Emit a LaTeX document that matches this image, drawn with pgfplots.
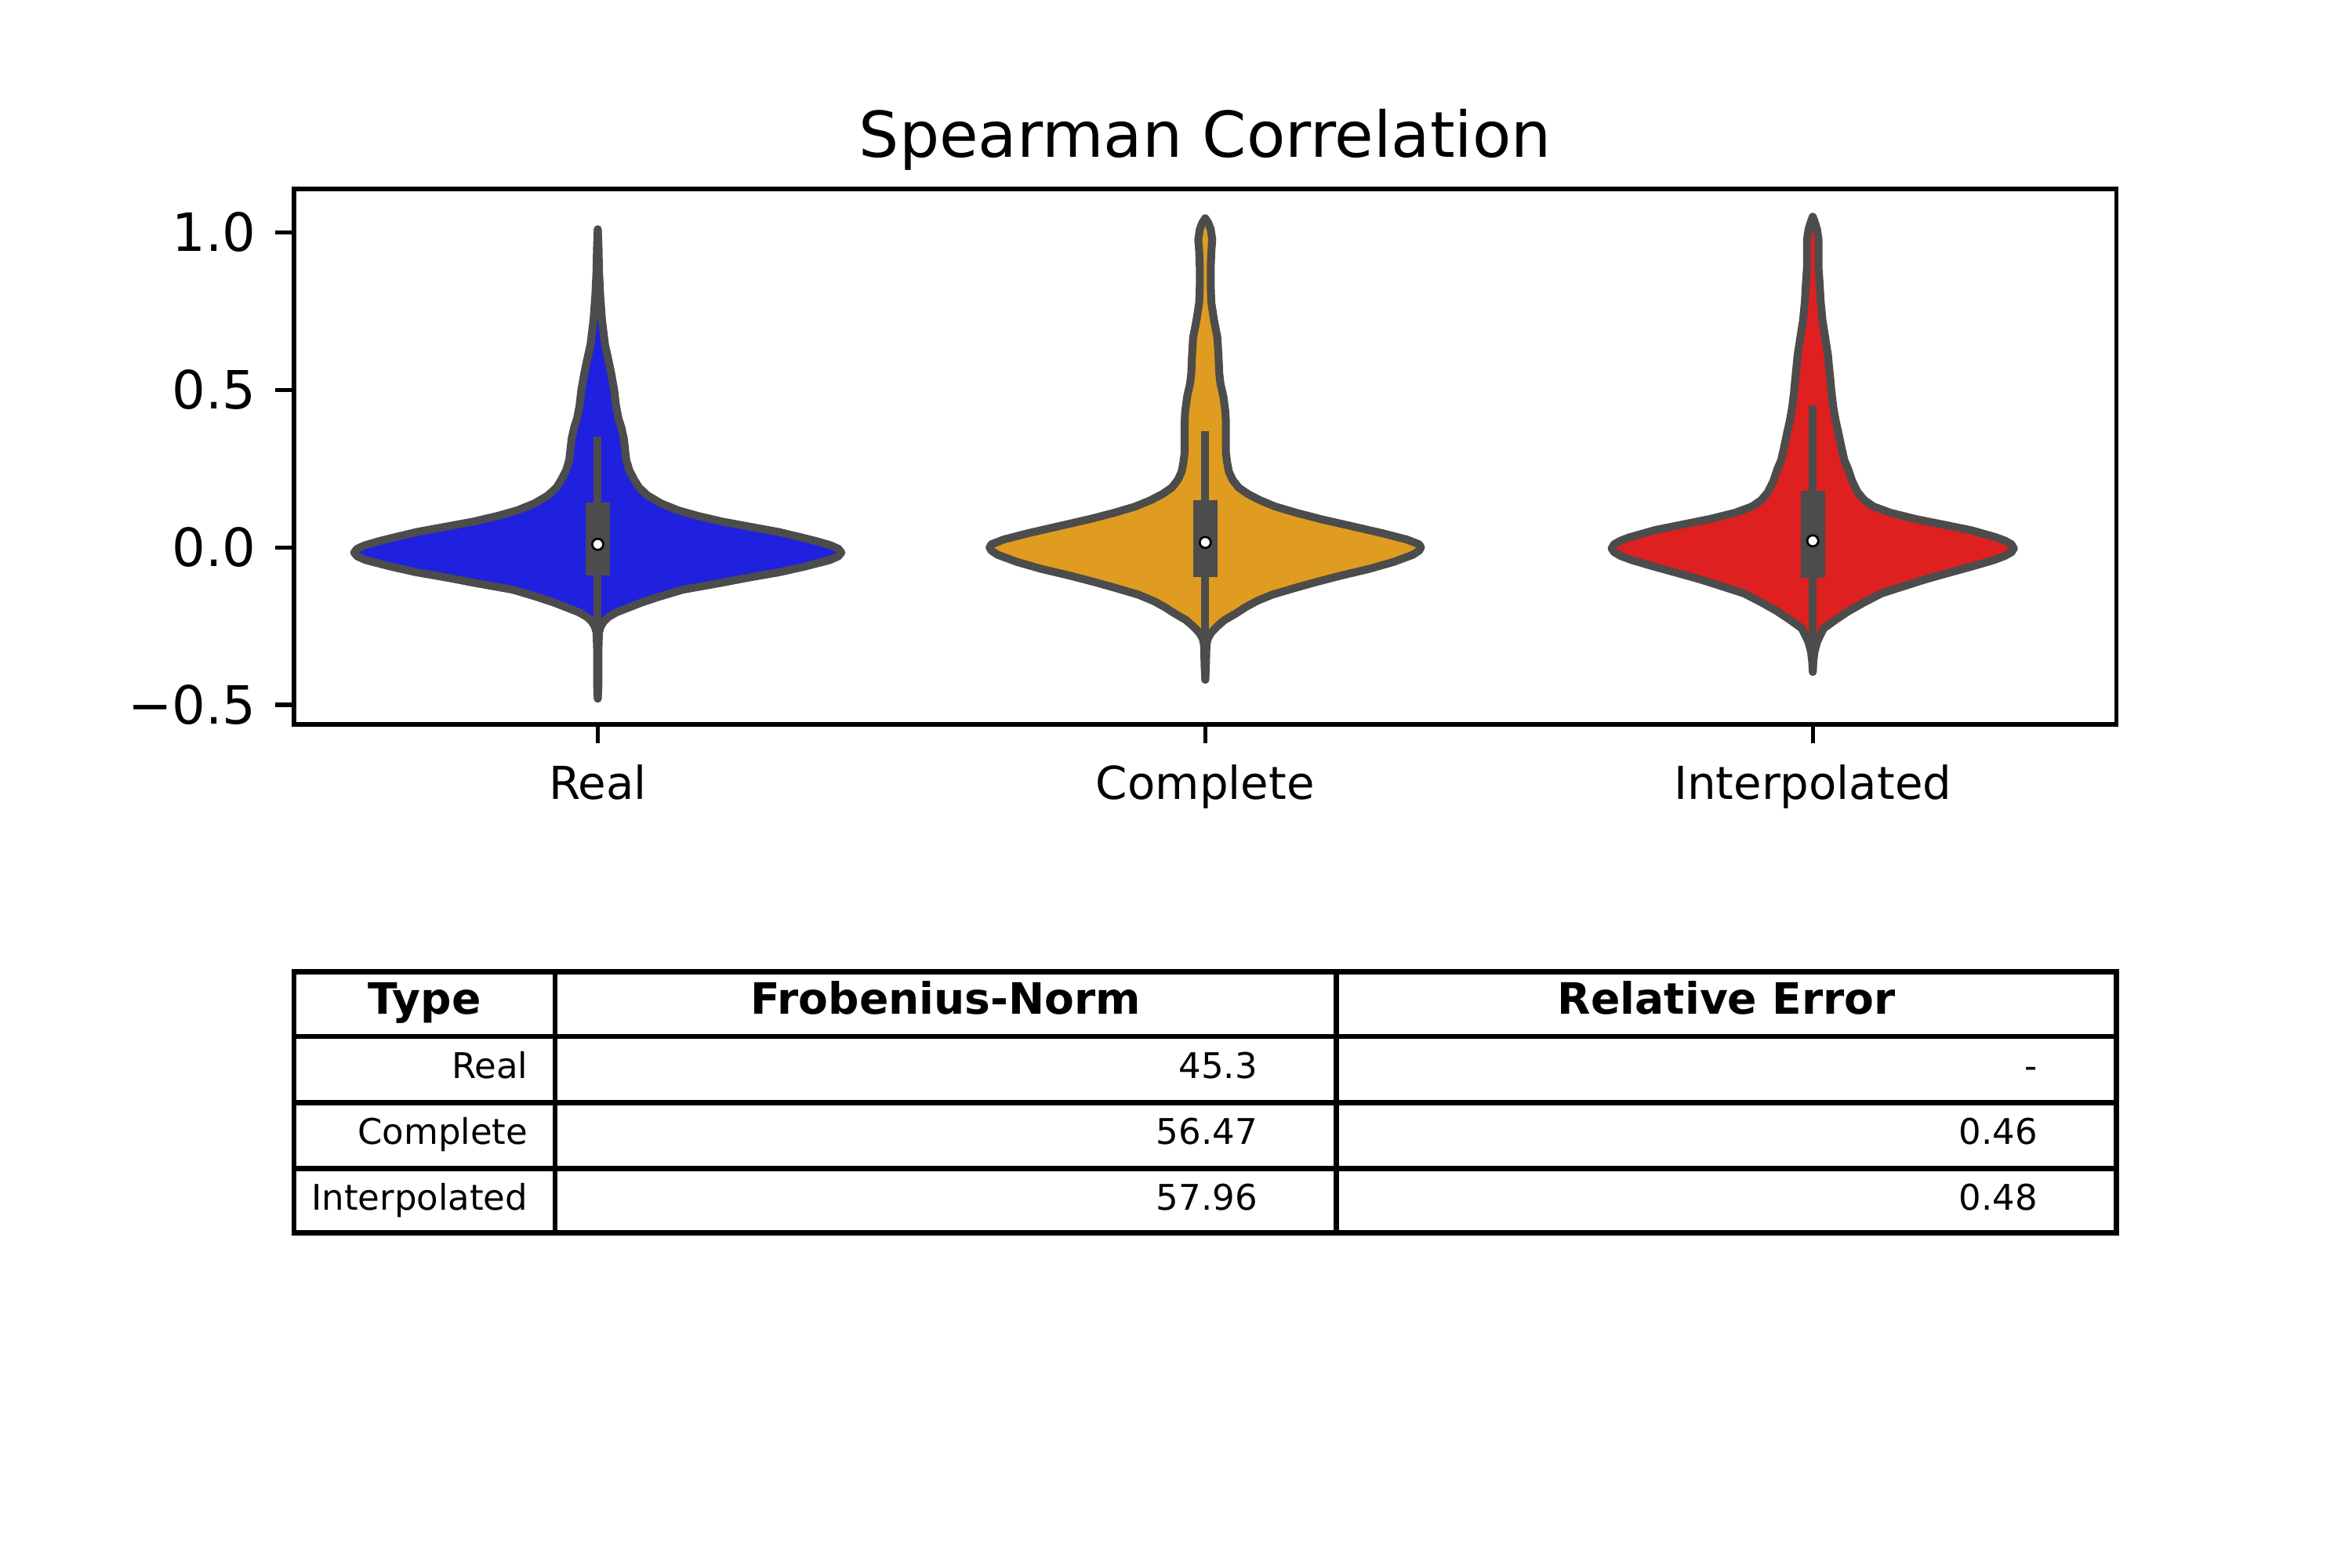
\documentclass[border=0pt]{standalone}
\usepackage{fontspec}
\setmainfont{DejaVu Sans}
\usepackage{pgfplots}
\usepackage{pgfplotstable}
\pgfplotsset{compat=1.18}
\usepgfplotslibrary{fillbetween}
\definecolor{realc}{RGB}{32,32,223}
\definecolor{compc}{RGB}{223,156,32}
\definecolor{intc}{RGB}{223,32,32}
\definecolor{vgray}{RGB}{76,76,76}

\pgfplotstableread[row sep=\\]{
y w \\
-0.480 0.000 \\ -0.440 0.001 \\ -0.330 0.001 \\ -0.270 0.002 \\ -0.250 0.005 \\
-0.235 0.010 \\ -0.220 0.018 \\ -0.205 0.032 \\ -0.190 0.052 \\ -0.175 0.072 \\
-0.157 0.100 \\ -0.134 0.140 \\ -0.112 0.204 \\ -0.095 0.250 \\ -0.079 0.298 \\
-0.060 0.342 \\ -0.040 0.382 \\ -0.028 0.396 \\ -0.016 0.401 \\ -0.004 0.396 \\
0.007 0.383 \\ 0.020 0.360 \\ 0.032 0.335 \\ 0.049 0.298 \\ 0.066 0.250 \\
0.082 0.205 \\ 0.100 0.165 \\ 0.118 0.132 \\ 0.140 0.104 \\ 0.165 0.082 \\
0.190 0.068 \\ 0.215 0.060 \\ 0.245 0.052 \\ 0.277 0.047 \\ 0.310 0.045 \\
0.345 0.043 \\ 0.380 0.039 \\ 0.410 0.034 \\ 0.450 0.030 \\ 0.500 0.027 \\
0.554 0.022 \\ 0.600 0.017 \\ 0.643 0.012 \\ 0.721 0.007 \\ 0.800 0.004 \\
0.880 0.002 \\ 0.950 0.0013 \\ 1.010 0.000 \\
}\realdata

\pgfplotstableread[row sep=\\]{
y w \\
-0.420 0.000 \\ -0.380 0.001 \\ -0.310 0.002 \\ -0.290 0.004 \\ -0.270 0.010 \\
-0.250 0.020 \\ -0.230 0.032 \\ -0.210 0.050 \\ -0.190 0.066 \\ -0.170 0.085 \\
-0.150 0.110 \\ -0.130 0.145 \\ -0.110 0.182 \\ -0.090 0.222 \\ -0.068 0.270 \\
-0.046 0.310 \\ -0.023 0.342 \\ -0.010 0.352 \\ 0.000 0.355 \\ 0.010 0.352 \\
0.025 0.332 \\ 0.045 0.292 \\ 0.068 0.240 \\ 0.090 0.190 \\ 0.110 0.150 \\
0.130 0.115 \\ 0.150 0.090 \\ 0.170 0.070 \\ 0.190 0.055 \\ 0.215 0.045 \\
0.240 0.039 \\ 0.270 0.036 \\ 0.300 0.034 \\ 0.350 0.034 \\ 0.400 0.034 \\
0.432 0.033 \\ 0.477 0.030 \\ 0.520 0.025 \\ 0.554 0.023 \\ 0.600 0.022 \\
0.666 0.020 \\ 0.721 0.0145 \\ 0.777 0.010 \\ 0.830 0.009 \\ 0.888 0.009 \\
0.940 0.010 \\ 0.977 0.0115 \\ 1.010 0.009 \\ 1.030 0.005 \\ 1.045 0.000 \\
}\compdata

\pgfplotstableread[row sep=\\]{
y w \\
-0.395 0.000 \\ -0.360 0.001 \\ -0.330 0.003 \\ -0.301 0.007 \\ -0.280 0.012 \\
-0.257 0.018 \\ -0.229 0.038 \\ -0.201 0.060 \\ -0.175 0.084 \\ -0.146 0.113 \\
-0.123 0.150 \\ -0.101 0.186 \\ -0.080 0.225 \\ -0.057 0.268 \\ -0.040 0.298 \\
-0.027 0.316 \\ -0.015 0.327 \\ -0.003 0.331 \\ 0.010 0.327 \\ 0.021 0.317 \\
0.032 0.302 \\ 0.055 0.260 \\ 0.071 0.219 \\ 0.090 0.170 \\ 0.110 0.128 \\
0.130 0.100 \\ 0.150 0.085 \\ 0.175 0.074 \\ 0.210 0.065 \\ 0.250 0.058 \\
0.277 0.052 \\ 0.320 0.047 \\ 0.366 0.042 \\ 0.400 0.038 \\ 0.443 0.034 \\
0.490 0.031 \\ 0.532 0.029 \\ 0.570 0.027 \\ 0.610 0.025 \\ 0.660 0.021 \\
0.721 0.016 \\ 0.780 0.013 \\ 0.832 0.0115 \\ 0.888 0.0095 \\ 0.977 0.0095 \\
1.010 0.007 \\ 1.035 0.003 \\ 1.050 0.000 \\
}\intdata

\begin{document}
\begin{tikzpicture}
\begin{axis}[
  at={(1.96cm,5.62cm)}, anchor=south west,
  scale only axis, width=12.15cm, height=3.57cm,
  xmin=-0.5, xmax=2.5, ymin=-0.562, ymax=1.138,
  xtick={0,1,2}, xticklabels={Real,Complete,Interpolated},
  ytick={-0.5,0,0.5,1}, yticklabels={−0.5,0.0,0.5,1.0},
  tick pos=left, tick align=outside, major tick length=0.123cm,
  axis line style={line width=0.8pt},
  every tick/.style={black, line width=0.8pt},
  xticklabel style={font=\fontsize{8.6}{10}\selectfont, anchor=base, inner sep=0pt, yshift=-0.377cm},
  yticklabel style={font=\fontsize{10}{12}\selectfont, anchor=east, inner sep=0pt, xshift=-0.123cm},
  title={Spearman Correlation},
  title style={font=\fontsize{12}{14}\selectfont, at={(0.5,1)}, anchor=base, inner sep=0pt},
]
% Real
\addplot[name path=rR, draw=vgray, line width=1.5pt, line join=round, line cap=round] table[x expr=0+\thisrow{w}, y=y] {\realdata};
\addplot[name path=rL, draw=vgray, line width=1.5pt, line join=round, line cap=round] table[x expr=0-\thisrow{w}, y=y] {\realdata};
\addplot[fill=realc, draw=none] fill between[of=rR and rL];
\addplot[vgray, line width=1.5pt] coordinates {(0,-0.44) (0,0.352)};
\addplot[vgray, line width=4.6pt] coordinates {(0,-0.090) (0,0.143)};
\addplot[only marks, mark=*, mark size=1.05pt, mark options={fill=white, draw=none}] coordinates {(0,0.010)};
% Complete
\addplot[name path=cR, draw=vgray, line width=1.5pt, line join=round, line cap=round] table[x expr=1+\thisrow{w}, y=y] {\compdata};
\addplot[name path=cL, draw=vgray, line width=1.5pt, line join=round, line cap=round] table[x expr=1-\thisrow{w}, y=y] {\compdata};
\addplot[fill=compc, draw=none] fill between[of=cR and cL];
\addplot[vgray, line width=1.5pt] coordinates {(1,-0.42) (1,0.369)};
\addplot[vgray, line width=4.6pt] coordinates {(1,-0.093) (1,0.149)};
\addplot[only marks, mark=*, mark size=1.05pt, mark options={fill=white, draw=none}] coordinates {(1,0.016)};
% Interpolated
\addplot[name path=iR, draw=vgray, line width=1.5pt, line join=round, line cap=round] table[x expr=2+\thisrow{w}, y=y] {\intdata};
\addplot[name path=iL, draw=vgray, line width=1.5pt, line join=round, line cap=round] table[x expr=2-\thisrow{w}, y=y] {\intdata};
\addplot[fill=intc, draw=none] fill between[of=iR and iL];
\addplot[vgray, line width=1.5pt] coordinates {(2,-0.395) (2,0.451)};
\addplot[vgray, line width=4.6pt] coordinates {(2,-0.096) (2,0.180)};
\addplot[only marks, mark=*, mark size=1.05pt, mark options={fill=white, draw=none}] coordinates {(2,0.021)};
\end{axis}
% table
\draw[line width=1pt] (1.96,2.23) rectangle (14.11,3.97);
\draw[line width=1pt] (1.96,2.66) -- (14.11,2.66);
\draw[line width=1pt] (1.96,3.10) -- (14.11,3.10);
\draw[line width=1pt] (1.96,3.54) -- (14.11,3.54);
\draw[line width=1pt] (3.70,2.23) -- (3.70,3.97);
\draw[line width=1pt] (8.91,2.23) -- (8.91,3.97);
\begin{scope}[every node/.style={font=\bfseries\fontsize{8.2}{10}\selectfont, inner sep=0pt, anchor=base}]
\node at (2.83,3.69) {Type};
\node at (6.305,3.69) {Frobenius-Norm};
\node at (11.51,3.69) {Relative Error};
\end{scope}
\begin{scope}[every node/.style={font=\fontsize{6.7}{8}\selectfont, inner sep=0pt, anchor=base east}]
\node at (3.526,3.26) {Real};
\node at (8.389,3.26) {45.3};
\node at (13.59,3.26) {-};
\node at (3.526,2.82) {Complete};
\node at (8.389,2.82) {56.47};
\node at (13.59,2.82) {0.46};
\node at (3.526,2.385) {Interpolated};
\node at (8.389,2.385) {57.96};
\node at (13.59,2.385) {0.48};
\end{scope}
\path (0,0) rectangle (15.68,10.45);
\end{tikzpicture}
\end{document}
